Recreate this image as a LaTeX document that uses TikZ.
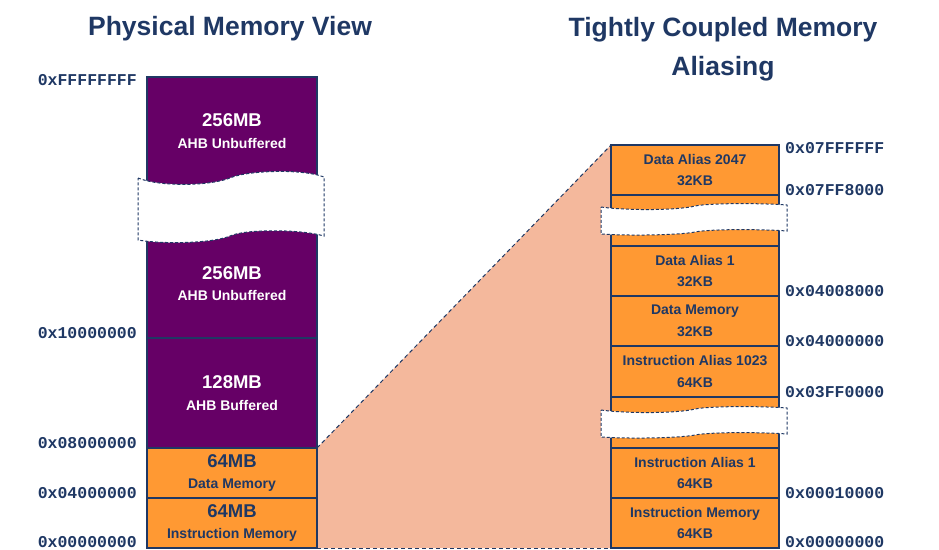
\documentclass[tikz,border=0pt]{standalone}
\usepackage{fontspec}
\setmainfont{Liberation Sans}
\setmonofont{Liberation Mono}
\usepackage{xcolor}
\usepackage{tikz}
\usetikzlibrary{calc}
\usetikzlibrary{backgrounds}

\definecolor{navy}{HTML}{1F3864}
\definecolor{plum}{HTML}{660066}
\definecolor{tcmorange}{HTML}{FF9933}
\definecolor{salmon}{HTML}{F4B89C}

\newcommand{\ttlfont}{\fontsize{26.5}{39}\selectfont\bfseries}
\newcommand{\mbfont}{\fontsize{18.5}{22}\selectfont\bfseries}
\newcommand{\blkfont}{\fontsize{14}{21.5}\selectfont\bfseries}
\newcommand{\addrfont}{\fontsize{16.5}{20}\selectfont\ttfamily\bfseries}

\begin{document}
\begin{tikzpicture}[x=1pt,y=1pt,
	blk/.style={rectangle,draw=navy,line width=1.5pt,inner sep=0pt,outer sep=0pt,
		anchor=north west,align=center,font=\blkfont},
	plumblk/.style={blk,fill=plum,text=white,minimum width=170pt},
	orangeblk/.style={blk,fill=tcmorange,text=navy,minimum width=170pt},
	aliasblk/.style={blk,fill=tcmorange,text=navy,minimum width=168pt},
	addr/.style={font=\addrfont,text=navy,inner sep=0pt},
	ttl/.style={font=\ttlfont,text=navy,inner sep=0pt,anchor=base},
	breakband/.style={fill=white,draw=navy,line width=1pt,dash pattern=on 3pt off 2pt},
	funnel/.style={draw=navy,line width=1pt,dash pattern=on 4pt off 3pt}]
	\useasboundingbox (0,0) rectangle (939,-549);

	% titles
	\node[ttl] (physTitle) at (230,-35) {Physical Memory View};
	\node[ttl] (tcmTitle) at (723,-36) {Tightly Coupled Memory};
	\node[ttl] (tcmSub) at (723,-75) {Aliasing};

	% physical memory column
	\node[plumblk,minimum height=108pt] (ahbTop) at (147,-77) {{\mbfont 256MB}\\AHB Unbuffered};
	\node[plumblk,minimum height=109pt] (ahbMid) at (147,-229) {{\mbfont 256MB}\\AHB Unbuffered};
	\node[plumblk,minimum height=110pt] (ahbBuf) at (147,-338) {{\mbfont 128MB}\\AHB Buffered};
	\node[orangeblk,minimum height=50pt] (dmem) at (147,-448) {{\mbfont 64MB}\\Data Memory};
	\node[orangeblk,minimum height=50pt] (imem) at (147,-498) {{\mbfont 64MB}\\Instruction Memory};

	% TCM alias column
	\node[aliasblk,minimum height=50pt] (dAlias2047) at (611,-145) {Data Alias 2047\\32KB};
	\node[aliasblk,minimum height=51pt] (dGap) at (611,-195) {};
	\node[aliasblk,minimum height=50pt] (dAlias1) at (611,-246) {Data Alias 1\\32KB};
	\node[aliasblk,minimum height=50pt] (dMem) at (611,-296) {Data Memory\\32KB};
	\node[aliasblk,minimum height=51pt] (iAlias1023) at (611,-346) {Instruction Alias 1023\\64KB};
	\node[aliasblk,minimum height=51pt] (iGap) at (611,-397) {};
	\node[aliasblk,minimum height=50pt] (iAlias1) at (611,-448) {Instruction Alias 1\\64KB};
	\node[aliasblk,minimum height=50pt] (iMem) at (611,-498) {Instruction Memory\\64KB};

	% zoom funnel
	\begin{pgfonlayer}{background}
		\fill[salmon] (dmem.north east) -- (dAlias2047.north west) -- (iMem.south west) -- (imem.south east) -- cycle;
	\end{pgfonlayer}
	\draw[funnel] (dmem.north east) -- (dAlias2047.north west);
	\draw[funnel] (imem.south east) -- (iMem.south west);

	% breaks
	\draw[breakband] (138,-178) .. controls (160,-187) and (210,-186) .. (230,-178)
		.. controls (245,-171) and (300,-168) .. (324,-177) -- (324,-236)
		.. controls (300,-229) and (245,-229) .. (230,-236)
		.. controls (210,-244) and (160,-244) .. (138,-240) -- cycle;
	\draw[breakband] (601,-207) .. controls (630,-211) and (680,-210) .. (695,-206)
		.. controls (710,-203) and (760,-203) .. (787,-205) -- (787,-231)
		.. controls (760,-229) and (710,-229) .. (695,-232)
		.. controls (680,-235) and (630,-236) .. (601,-234) -- cycle;
	\draw[breakband] (601,-410) .. controls (630,-414) and (680,-413) .. (695,-409)
		.. controls (710,-406) and (760,-406) .. (787,-408) -- (787,-434)
		.. controls (760,-432) and (710,-432) .. (695,-435)
		.. controls (680,-438) and (630,-439) .. (601,-437) -- cycle;

	% addresses
	\node[addr,anchor=base east] (aTop) at (137,-85) {0xFFFFFFFF};
	\node[addr,anchor=base east] (aTen) at (137,-338) {0x10000000};
	\node[addr,anchor=base east] (aEight) at (137,-448) {0x08000000};
	\node[addr,anchor=base east] (aFour) at (137,-498) {0x04000000};
	\node[addr,anchor=base east] (aZero) at (137,-547) {0x00000000};

	\node[addr,anchor=base west] (tTop) at (785,-153) {0x07FFFFFF};
	\node[addr,anchor=base west] (tD2047) at (785,-195) {0x07FF8000};
	\node[addr,anchor=base west] (tD1) at (785,-296) {0x04008000};
	\node[addr,anchor=base west] (tDmem) at (785,-346) {0x04000000};
	\node[addr,anchor=base west] (tI1023) at (785,-397) {0x03FF0000};
	\node[addr,anchor=base west] (tI1) at (785,-498) {0x00010000};
	\node[addr,anchor=base west] (tZero) at (785,-547) {0x00000000};
\end{tikzpicture}
\end{document}
